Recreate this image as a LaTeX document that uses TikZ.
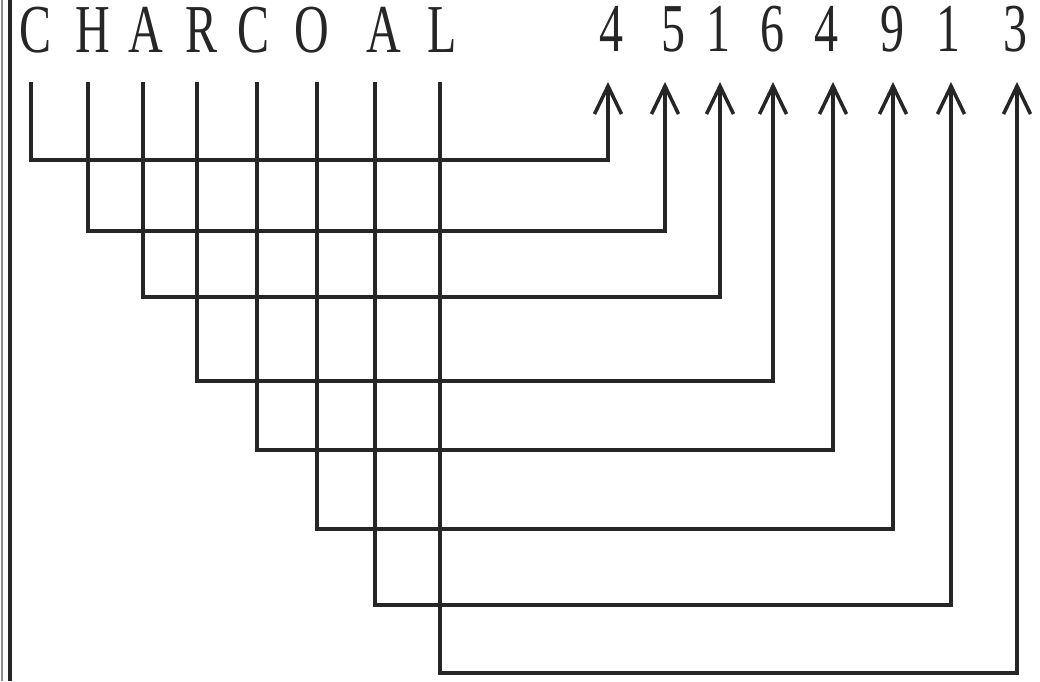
\documentclass[tikz,border=0pt]{standalone}
\usepackage{fontspec}
\setmainfont{Liberation Serif}[FakeStretch=0.7]
\usetikzlibrary{arrows.meta}
\begin{document}
\begin{tikzpicture}[x=0.01cm,y=-0.01cm,
  lbl/.style={inner sep=0pt,anchor=base,font=\fontsize{19.5pt}{23pt}\selectfont,text=black!85},
  wire/.style={line width=1.15pt,black!85,line join=miter},
  arr/.style={wire,-{Straight Barb[length=0.28cm,width=0.27cm,line width=1pt]}}]
\useasboundingbox (0,0) rectangle (1040,681);
% left border
\draw[line width=0.5pt,black!45] (2,0) -- (2,681);
\draw[line width=0.9pt,black!85] (10,0) -- (10,681);
% letters
\node[lbl] (l1) at (36,52) {C};
\node[lbl] (l2) at (93,52) {H};
\node[lbl] (l3) at (146,52) {A};
\node[lbl] (l4) at (202,52) {R};
\node[lbl] (l5) at (254,52) {C};
\node[lbl] (l6) at (312,52) {O};
\node[lbl] (l7) at (384,52) {A};
\node[lbl] (l8) at (442,52) {L};
% numbers
\node[lbl] (n1) at (611,51) {4};
\node[lbl] (n2) at (673,51) {5};
\node[lbl] (n3) at (718,51) {1};
\node[lbl] (n4) at (772,51) {6};
\node[lbl] (n5) at (826,51) {4};
\node[lbl] (n6) at (892,51) {9};
\node[lbl] (n7) at (948,51) {1};
\node[lbl] (n8) at (1015,51) {3};
% line starts
\coordinate (a1) at (31,82);
\coordinate (a2) at (88,82);
\coordinate (a3) at (143,82);
\coordinate (a4) at (197,82);
\coordinate (a5) at (257,82);
\coordinate (a6) at (317,82);
\coordinate (a7) at (375,82);
\coordinate (a8) at (440,82);
% arrow tips
\coordinate (b1) at (608,82);
\coordinate (b2) at (665,82);
\coordinate (b3) at (720,82);
\coordinate (b4) at (773,82);
\coordinate (b5) at (833,82);
\coordinate (b6) at (893,82);
\coordinate (b7) at (951,82);
\coordinate (b8) at (1017,82);
% levels
\coordinate (h1) at (0,160);
\coordinate (h2) at (0,231);
\coordinate (h3) at (0,297);
\coordinate (h4) at (0,381);
\coordinate (h5) at (0,450);
\coordinate (h6) at (0,529);
\coordinate (h7) at (0,605);
\coordinate (h8) at (0,673);
\foreach \i in {1,...,8}{
  \draw[arr] (a\i) -- (a\i |- h\i) -- (b\i |- h\i) -- (b\i);
}
\end{tikzpicture}
\end{document}
